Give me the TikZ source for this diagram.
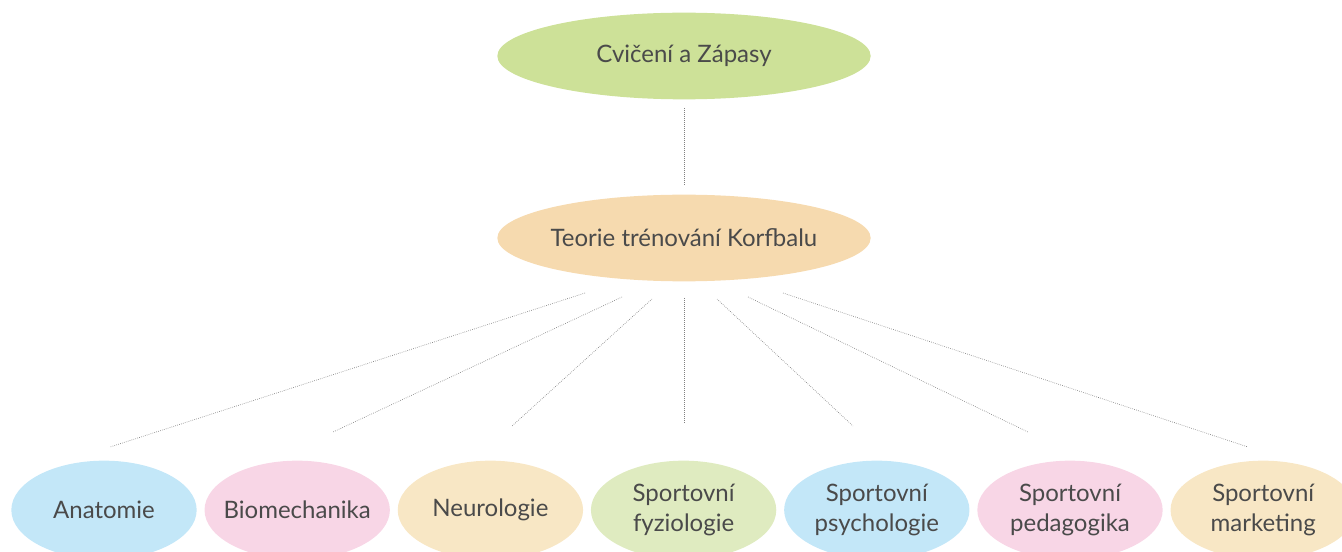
\documentclass[tikz,border=0pt]{standalone}
\usepackage{fontspec}
\setmainfont{Lato}
\usetikzlibrary{shapes.geometric, positioning}
\definecolor{textgray}{HTML}{4A4A4A}
\definecolor{topgreen}{HTML}{CDE198}
\definecolor{midorange}{HTML}{F6DAAF}
\definecolor{lblue}{HTML}{C3E7F8}
\definecolor{lpink}{HTML}{F8D6E6}
\definecolor{lsand}{HTML}{F8E7C5}
\definecolor{lgreen}{HTML}{DFEBC0}
\tikzset{
  bubble/.style = {ellipse, inner xsep=-20pt, inner ysep=0pt, text=textgray, font=\fontsize{18}{22}\selectfont},
  bigbubble/.style = {bubble, minimum width=280pt, minimum height=65pt},
  smallbubble/.style = {bubble, minimum width=139pt, minimum height=74pt, align=center},
  link/.style = {densely dotted, gray, line width=0.5pt}
}

\begin{document}
\begin{tikzpicture}[x=0.75pt, y=-0.75pt]
    \clip (0,0) rectangle (1342,552);
    \useasboundingbox (0,0) rectangle (1342,552);

    % Top two nodes
    \node[bigbubble, fill=topgreen] (exercise) at (684,56) {Cvičení a Zápasy};
    \node[bigbubble, fill=midorange] (theory) at (684,238) {Teorie trénování Korfbalu};

    % Bottom row of fields
    \node[smallbubble, fill=lblue] (anatomy) at (104,510) {Anatomie};
    \node[smallbubble, fill=lpink, right=5.5pt of anatomy] (biomech) {Biomechanika};
    \node[smallbubble, fill=lsand, right=5.5pt of biomech] (neuro) {Neurologie};
    \node[smallbubble, fill=lgreen, right=5.5pt of neuro] (physio) {Sportovní\\fyziologie};
    \node[smallbubble, fill=lblue, right=5.5pt of physio] (psycho) {Sportovní\\psychologie};
    \node[smallbubble, fill=lpink, right=5.5pt of psycho] (pedago) {Sportovní\\pedagogika};
    \node[smallbubble, fill=lsand, right=5.5pt of pedago] (market) {Sportovní\\marketing};

    % Free ends of the dotted links
    \coordinate (exercise-end) at (684,108);
    \coordinate (theory-top) at (684,186);
    \coordinate (t1) at (585,293);
    \coordinate (t2) at (622,297);
    \coordinate (t3) at (652,299);
    \coordinate (t4) at (684,298);
    \coordinate (t5) at (717,299);
    \coordinate (t6) at (748,297);
    \coordinate (t7) at (783,293);
    \coordinate (anatomy-top) at (110,447);
    \coordinate (biomech-top) at (333,432);
    \coordinate (neuro-top) at (512,426);
    \coordinate (physio-top) at (684,424);
    \coordinate (psycho-top) at (853,426);
    \coordinate (pedago-top) at (1028,432);
    \coordinate (market-top) at (1248,447);

    % Links
    \draw[link] (exercise-end) -- (theory-top);
    \draw[link] (t1) -- (anatomy-top);
    \draw[link] (t2) -- (biomech-top);
    \draw[link] (t3) -- (neuro-top);
    \draw[link] (t4) -- (physio-top);
    \draw[link] (t5) -- (psycho-top);
    \draw[link] (t6) -- (pedago-top);
    \draw[link] (t7) -- (market-top);

\end{tikzpicture}
\end{document}
